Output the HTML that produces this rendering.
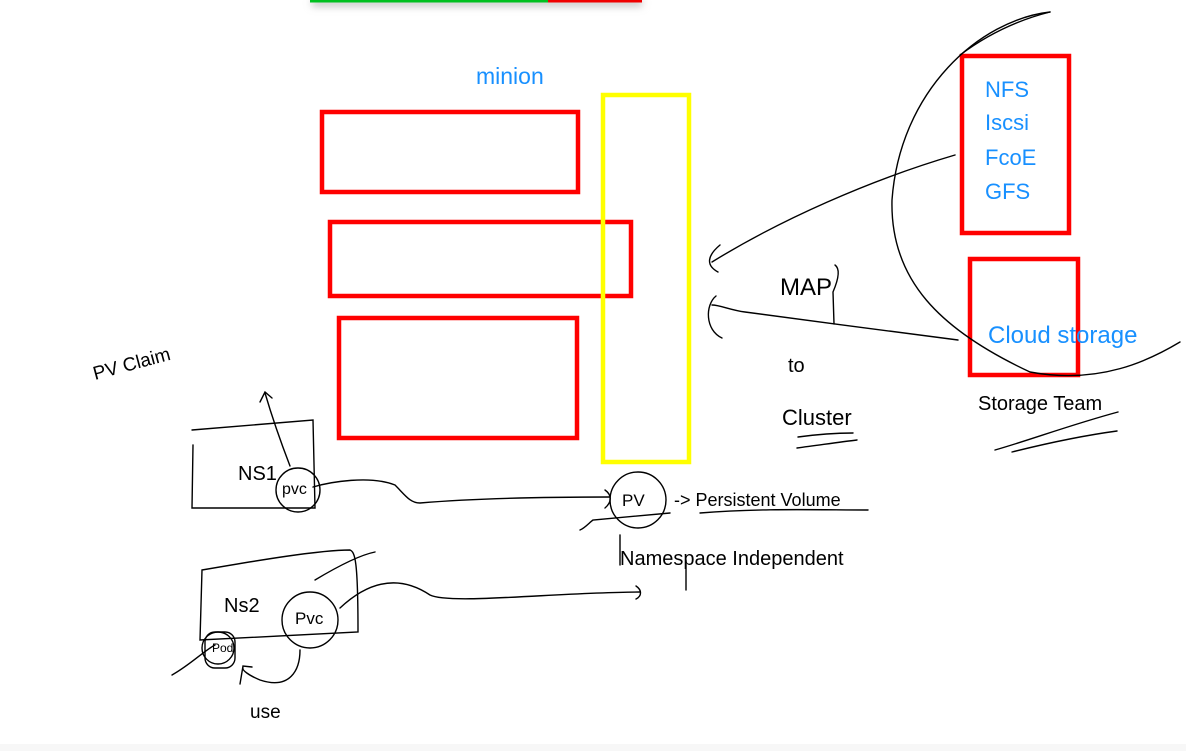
<!DOCTYPE html>
<html><head><meta charset="utf-8"><style>
html,body{margin:0;padding:0;background:#fff;}
svg{display:block}
text{font-family:"Liberation Sans",sans-serif;}
</style></head><body>
<svg width="1186" height="751" viewBox="0 0 1186 751" xmlns="http://www.w3.org/2000/svg">
<defs><filter id="sh" x="-10%" y="-200%" width="120%" height="600%"><feGaussianBlur stdDeviation="4"/></filter></defs>
<rect x="0" y="0" width="1186" height="751" fill="#fff"/>
<rect x="312" y="0" width="330" height="6" fill="#bbb" filter="url(#sh)"/>
<rect x="310" y="0" width="238" height="2.5" fill="#00c020"/>
<rect x="548" y="0" width="94" height="2.5" fill="#f00000"/>
<rect x="0" y="744" width="1186" height="7" fill="#f7f7f7"/>

<g fill="none" stroke="#f00" stroke-width="4.5">
<rect x="322" y="112" width="256" height="80"/>
<rect x="330" y="222" width="301" height="74"/>
<rect x="339" y="318" width="238" height="120"/>
<rect x="962" y="56" width="107" height="177"/>
<rect x="970" y="259" width="108" height="116"/>
</g>
<rect x="603" y="95" width="86" height="367" fill="none" stroke="#ff0" stroke-width="4.5"/>

<g fill="none" stroke="#000" stroke-width="1.4" stroke-linecap="round">
<!-- big circle -->
<path d="M1050 12 C980 20 900 90 892 200 C890 280 940 330 1030 372 C1100 385 1150 360 1180 342"/>
<path d="M1050 12 C1010 22 980 40 960 55"/>
<!-- arrows to yellow -->
<path d="M955 155 C870 180 780 220 712 262"/>
<path d="M720 245 C708 255 705 265 718 272"/>
<path d="M958 340 C880 330 820 322 745 312 C730 310 720 305 712 305"/>
<path d="M716 296 C705 305 705 330 722 338"/>
<path d="M835 265 C842 270 836 285 833 292 L834 324"/>
<!-- underlines -->
<path d="M798 437 C820 434 838 433 853 433"/><path d="M797 448 C820 445 840 442 857 440"/>
<path d="M1118 412 C1070 425 1030 440 995 450"/><path d="M1117 431 C1080 436 1040 445 1012 452"/>
<!-- NS1 box -->
<path d="M192 430 L313 420 L315 508 L192 508 L193 445"/>
<circle cx="298" cy="490" r="22"/>
<path d="M290 466 C280 440 270 410 265 393"/><path d="M260 402 L265 392 L272 398"/>
<path d="M313 487 C330 482 370 475 395 485 C405 495 410 503 420 503 C480 498 560 497 610 497"/>
<path d="M605 490 C612 495 612 502 605 508"/>
<circle cx="638" cy="500" r="28"/>
<path d="M580 530 C585 528 590 522 593 520 L670 513"/>
<path d="M620 535 L620 565"/><path d="M686 560 L686 590"/>
<path d="M700 513 C760 508 820 510 868 510"/>
<!-- NS2 box -->
<path d="M202 570 C260 560 320 550 350 550 C355 552 358 560 358 632 L200 640 Z"/>
<path d="M315 580 C340 565 360 555 375 552"/>
<circle cx="310" cy="620" r="28"/>
<path d="M340 608 C370 580 400 575 430 595 C450 605 560 592 640 592"/>
<path d="M636 586 C642 590 642 596 636 599"/>
<circle cx="218" cy="648" r="16"/><rect x="205" y="632" width="30" height="36" rx="10"/>
<path d="M172 675 C190 665 205 650 215 645"/>
<path d="M300 650 C300 670 290 690 260 680 C248 675 242 670 243 668"/><path d="M240 684 L243 666 L252 667"/>
</g>

<g fill="#1890ff" font-size="22">
<text x="476" y="84" font-size="23">minion</text>
<text x="985" y="97">NFS</text>
<text x="985" y="130">Iscsi</text>
<text x="985" y="165">FcoE</text>
<text x="985" y="199">GFS</text>
<text x="988" y="343" font-size="24">Cloud storage</text>
</g>
<g fill="#000" font-size="20">
<text x="780" y="295" font-size="24">MAP</text>
<text x="788" y="372">to</text>
<text x="782" y="425" font-size="22">Cluster</text>
<text x="978" y="410">Storage Team</text>
<text x="95" y="380" font-size="19" transform="rotate(-15 95 380)">PV Claim</text>
<text x="238" y="480">NS1</text>
<text x="282" y="494" font-size="16">pvc</text>
<text x="622" y="506" font-size="17">PV</text>
<text x="674" y="506" font-size="18">-&gt; Persistent Volume</text>
<text x="620" y="565" font-size="20">Namespace Independent</text>
<text x="224" y="612">Ns2</text>
<text x="295" y="624" font-size="17">Pvc</text>
<text x="212" y="652" font-size="12">Pod</text>
<text x="250" y="718" font-size="19">use</text>
</g>
</svg>
</body></html>
